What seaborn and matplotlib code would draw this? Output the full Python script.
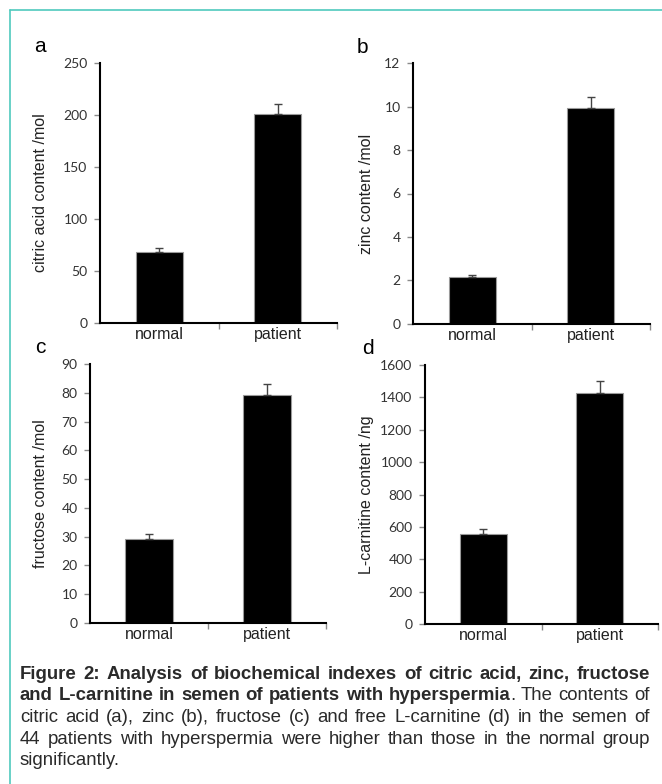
import matplotlib
matplotlib.use("Agg")
import matplotlib.pyplot as plt
import seaborn as sns
import pandas as pd
from matplotlib import font_manager
from matplotlib.lines import Line2D

# ---------------- data ----------------
groups = ["normal", "patient"]

citric_mean = [68, 201]
citric_err = [4, 10]
zinc_mean = [2.15, 9.95]
zinc_err = [0.1, 0.5]
fructose_mean = [29.3, 79.1]
fructose_err = [1.5, 4.0]
carnitine_mean = [554, 1430]
carnitine_err = [30, 72]

panel_letters = ["a", "b", "c", "d"]
ylabels = ["citric acid content /mol", "zinc content /mol",
           "fructose content /mol", "L-carnitine content /ng"]
yticks_a = [0, 50, 100, 150, 200, 250]
yticks_b = [0, 2, 4, 6, 8, 10, 12]
yticks_c = [0, 10, 20, 30, 40, 50, 60, 70, 80, 90]
yticks_d = [0, 200, 400, 600, 800, 1000, 1200, 1400, 1600]

caption_lines = [
    [("Figure 2: Analysis of biochemical indexes of citric acid, zinc, fructose", True)],
    [("and L-carnitine in semen of patients with hyperspermia", True), (". The contents of", False)],
    [("citric acid (a), zinc (b), fructose (c) and free L-carnitine (d) in the semen of", False)],
    [("44 patients with hyperspermia were higher than those in the normal group", False)],
    [("significantly.", False)],
]

# ---------------- style ----------------
sns.set_style("ticks")
plt.rcParams["font.family"] = ["Liberation Sans", "DejaVu Sans"]

W, H = 662, 784
fig = plt.figure(figsize=(W / 100, H / 100), dpi=100)
fig.patch.set_facecolor("white")

# panel boxes in pixels: left, top, right, bottom
boxes = [(100, 63, 337, 323), (413, 63, 650, 324),
         (90, 364, 326, 623), (425, 365, 658, 624)]
label_x = [48, 374, 48, 374]
letter_pos = [(34, 52), (357, 53), (35, 353), (362, 354)]

panels = [(citric_mean, citric_err, yticks_a),
          (zinc_mean, zinc_err, yticks_b),
          (fructose_mean, fructose_err, yticks_c),
          (carnitine_mean, carnitine_err, yticks_d)]

for i, ((means, errs, yt), box) in enumerate(zip(panels, boxes)):
    l, t, r, b = box
    ax = fig.add_axes([l / W, 1 - b / H, (r - l) / W, (b - t) / H])
    df = pd.DataFrame({"group": groups, "value": means})
    sns.barplot(data=df, x="group", y="value", ax=ax, color="black",
                width=0.4, edgecolor="#9a9a9a", linewidth=0.8,
                errorbar=None, saturation=1)
    xs = [p.get_x() + p.get_width() / 2 for p in ax.patches]
    ax.errorbar(xs, means, yerr=[[0] * len(errs), errs], fmt="none",
                ecolor="#444444", elinewidth=1.0, capsize=3, capthick=1.0,
                zorder=1)
    ax.set_xlim(-0.5, 1.5)
    ax.set_ylim(yt[0], yt[-1])
    ax.set_yticks(yt)
    ax.set_yticklabels([str(v) for v in yt])
    ax.set_xticks([0.5, 1.5], minor=True)
    ax.tick_params(axis="y", direction="out", length=4, width=1,
                   color="#8a8a8a", pad=5, labelsize=10,
                   labelcolor="#333333")
    for lab in ax.get_yticklabels():
        lab.set_family(["Lato", "DejaVu Sans"])
    ax.tick_params(axis="x", which="major", length=0, pad=3,
                   labelsize=11.5, labelcolor="#222222")
    ax.tick_params(axis="x", which="minor", direction="out", length=4,
                   width=1, color="#8a8a8a")
    ax.set_xlabel("")
    ax.set_ylabel(ylabels[i], fontsize=11.5, color="#222222")
    ax.yaxis.set_label_coords((label_x[i] - l) / (r - l), 0.5)
    for s in ["top", "right"]:
        ax.spines[s].set_visible(False)
    for s in ["left", "bottom"]:
        ax.spines[s].set_color("black")
        ax.spines[s].set_linewidth(1.5)
    ax.set_facecolor("white")
    lx, ly = letter_pos[i]
    fig.text(lx / W, 1 - ly / H, panel_letters[i], fontsize=15,
             color="black", ha="left", va="baseline")

# ---------------- teal frame ----------------
teal = "#4fcabd"
fig.add_artist(Line2D([10 / W, 1], [1 - 10 / H, 1 - 10 / H],
                      transform=fig.transFigure, color=teal, lw=1.2))
fig.add_artist(Line2D([10 / W, 10 / W], [1 - 10 / H, 0],
                      transform=fig.transFigure, color=teal, lw=1.2))

# ---------------- justified caption ----------------
avail = {f.name for f in font_manager.fontManager.ttflist}
if "Liberation Sans Narrow" in avail:
    cap_family = ["Liberation Sans Narrow", "DejaVu Sans"]
else:
    cap_family = ["Liberation Sans", "DejaVu Sans"]
cap_color = "#2a2a2a"
renderer = fig.canvas.get_renderer()
x0, x1 = 20, 650


def text_width(s, bold, size):
    tt = fig.text(0, 0, s, fontsize=size, family=cap_family,
                  weight="bold" if bold else "normal")
    w = tt.get_window_extent(renderer).width
    tt.remove()
    return w


def tokenize(runs):
    tokens = [[]]
    for txt, bold in runs:
        parts = txt.split(" ")
        for k, p in enumerate(parts):
            if k > 0:
                tokens.append([])
            if p:
                tokens[-1].append((p, bold))
    return [tk for tk in tokens if tk]


# choose a size so that the widest line just fits with normal spaces
ref_size = 10.0
ref_space = text_width("a a", False, ref_size) - text_width("aa", False, ref_size)
natural = []
for runs in caption_lines:
    tks = tokenize(runs)
    wsum = sum(text_width(p, bd, ref_size) for tk in tks for p, bd in tk)
    natural.append(wsum + ref_space * (len(tks) - 1))
cap_size = ref_size * (x1 - x0) / max(natural) * 0.995

space_w = text_width("a a", False, cap_size) - text_width("aa", False, cap_size)
base_y = 679
line_step = 21.5

for li, runs in enumerate(caption_lines):
    tokens = tokenize(runs)
    widths = [[text_width(p, bd, cap_size) for p, bd in tk] for tk in tokens]
    total = sum(sum(w) for w in widths)
    last = li == len(caption_lines) - 1
    gap = space_w if last or len(tokens) < 2 else (x1 - x0 - total) / (len(tokens) - 1)
    x = x0
    y = base_y + li * line_step
    for tk, ws in zip(tokens, widths):
        for (p, bd), w in zip(tk, ws):
            fig.text(x / W, 1 - y / H, p, fontsize=cap_size, family=cap_family,
                     weight="bold" if bd else "normal", color=cap_color,
                     ha="left", va="baseline")
            x += w
        x += gap

fig.savefig("out.png", dpi=100, facecolor="white")
